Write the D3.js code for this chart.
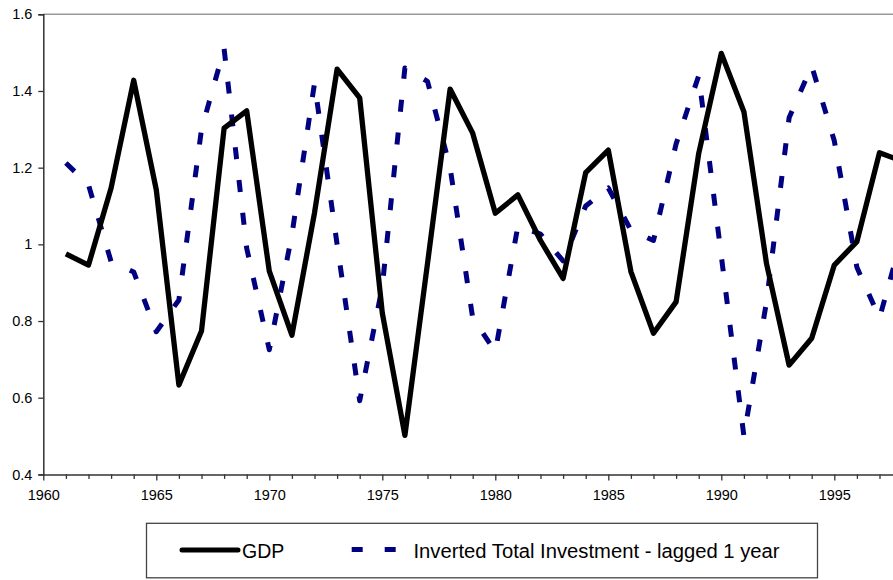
<!DOCTYPE html>
<html>
<head>
<meta charset="utf-8">
<script src="https://cdn.jsdelivr.net/npm/d3@7/dist/d3.min.js"></script>
<style>
  html, body { margin: 0; padding: 0; background: #fff; overflow: hidden; }
  svg { display: block; font-family: "Liberation Sans", Arial, sans-serif; }
</style>
</head>
<body>
<svg id="chart" width="893" height="580"></svg>
<script>
// ---- Data ----
const years = [1961,1962,1963,1964,1965,1966,1967,1968,1969,1970,1971,1972,1973,1974,1975,1976,1977,1978,1979,1980,1981,1982,1983,1984,1985,1986,1987,1988,1989,1990,1991,1992,1993,1994,1995,1996,1997,1998];
const gdp = [0.975,0.946,1.147,1.428,1.142,0.633,0.774,1.303,1.348,0.930,0.763,1.082,1.457,1.382,0.821,0.502,0.950,1.405,1.290,1.081,1.129,1.010,0.911,1.187,1.246,0.929,0.768,0.850,1.237,1.498,1.346,0.950,0.685,0.755,0.946,1.007,1.239,1.217];
const investment = [1.212,1.155,0.955,0.928,0.772,0.855,1.300,1.510,0.990,0.725,1.025,1.420,1.000,0.592,0.890,1.460,1.425,1.200,0.808,0.720,1.048,1.027,0.957,1.100,1.147,1.037,1.010,1.262,1.440,0.970,0.500,0.850,1.330,1.465,1.270,0.940,0.808,1.020];
const yTicks = [0.4,0.6,0.8,1.0,1.2,1.4,1.6];
const yTickLabels = ["0.4","0.6","0.8","1","1.2","1.4","1.6"];
const xLabelYears = [1960,1965,1970,1975,1980,1985,1990,1995];
const seriesNames = ["GDP","Inverted Total Investment - lagged 1 year"];

// ---- Layout ----
const svg = d3.select("#chart");
const mLeft = 43.3, mTop = 14.3, mBottom = 474.4;
const yearStep = 22.6;
const x = d3.scaleLinear().domain([1960, 2000]).range([mLeft, mLeft + 40 * yearStep]);
const y = d3.scaleLinear().domain([0.4, 1.6]).range([mBottom, mTop]);

// top border (grey)
svg.append("line")
  .attr("x1", mLeft).attr("x2", 893)
  .attr("y1", mTop).attr("y2", mTop)
  .attr("stroke", "#9a9a9a").attr("stroke-width", 1.5);

// Y axis
const yAxis = d3.axisLeft(y)
  .tickValues(yTicks)
  .tickFormat((d, i) => yTickLabels[i])
  .tickSize(5).tickPadding(6);
const gy = svg.append("g").attr("transform", `translate(${mLeft},0)`).call(yAxis);
gy.select(".domain").attr("stroke", "#333").attr("stroke-width", 1.5);
gy.selectAll(".tick line").attr("stroke", "#333").attr("stroke-width", 1.3);
gy.selectAll(".tick text").attr("font-size", 14.5).attr("fill", "#000")
  .attr("font-family", "Liberation Sans, Arial, sans-serif");

// X axis (yearly ticks; labels every 5 years)
const allYears = d3.range(1960, 2001);
const xAxis = d3.axisBottom(x)
  .tickValues(allYears)
  .tickFormat(d => xLabelYears.includes(d) ? String(d) : "")
  .tickSize(5).tickPadding(10).tickSizeOuter(0);
const gx = svg.append("g").attr("transform", `translate(0,${mBottom})`).call(xAxis);
gx.select(".domain").attr("stroke", "#333").attr("stroke-width", 1.5);
gx.selectAll(".tick line").attr("stroke", "#333").attr("stroke-width", 1.3)
  .attr("y2", d => d % 5 === 0 ? 6 : 4.5);
gx.selectAll(".tick text").attr("font-size", 14.5).attr("fill", "#000")
  .attr("font-family", "Liberation Sans, Arial, sans-serif");

// Lines
const line = d3.line().x((d, i) => x(years[i])).y(d => y(d));
svg.append("path")
  .datum(investment)
  .attr("d", line)
  .attr("fill", "none")
  .attr("stroke", "#000080")
  .attr("stroke-width", 5)
  .attr("stroke-dasharray", "12,21")
  .attr("stroke-linejoin", "round");
svg.append("path")
  .datum(gdp)
  .attr("d", line)
  .attr("fill", "none")
  .attr("stroke", "#000")
  .attr("stroke-width", 5.3)
  .attr("stroke-linejoin", "round");

// Legend
const lg = svg.append("g");
lg.append("rect")
  .attr("x", 146.5).attr("y", 523.3).attr("width", 671).attr("height", 54.5)
  .attr("fill", "#fff").attr("stroke", "#444").attr("stroke-width", 1.3);
lg.append("line")
  .attr("x1", 182).attr("x2", 238).attr("y1", 550).attr("y2", 550)
  .attr("stroke", "#000").attr("stroke-width", 5).attr("stroke-linecap", "round");
lg.append("text").attr("x", 242).attr("y", 557.5).attr("font-size", 19.5)
  .text(seriesNames[0]);
lg.append("line")
  .attr("x1", 351.7).attr("x2", 397).attr("y1", 549.5).attr("y2", 549.5)
  .attr("stroke", "#000080").attr("stroke-width", 5)
  .attr("stroke-dasharray", "11,22");
lg.append("text").attr("x", 413.5).attr("y", 557.5).attr("font-size", 19.5)
  .attr("textLength", 366).attr("lengthAdjust", "spacingAndGlyphs")
  .text(seriesNames[1]);
</script>
</body>
</html>
